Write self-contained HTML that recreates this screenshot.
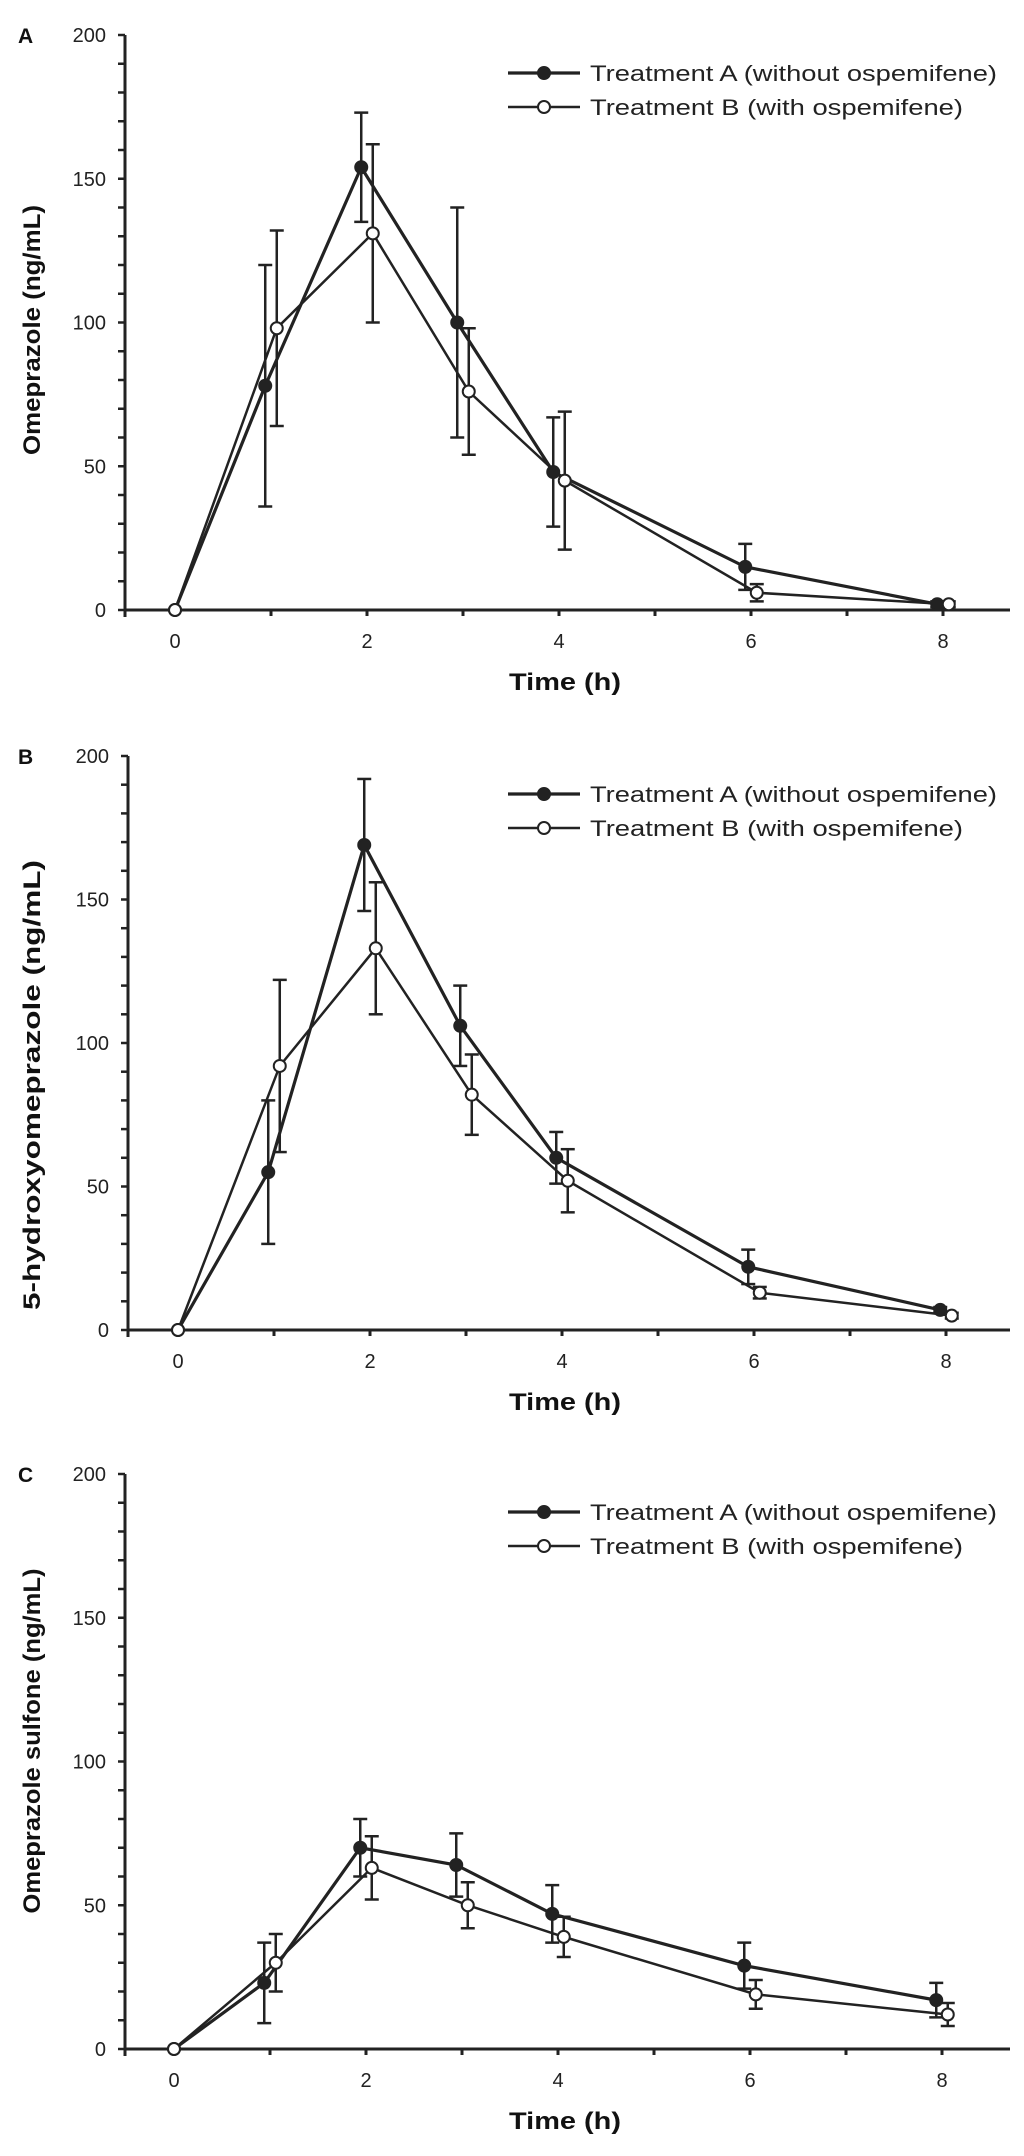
<!DOCTYPE html>
<html><head><meta charset="utf-8"><style>
html,body{margin:0;padding:0;background:#fff;}
svg{display:block;font-family:"Liberation Sans",Arial,sans-serif;}
</style></head>
<body>
<svg id="chart" width="1024" height="2156" viewBox="0 0 1024 2156" xmlns="http://www.w3.org/2000/svg"></svg>
<script>
const times = [0, 1, 2, 3, 4, 6, 8];
const panelLetters = ["A", "B", "C"];
const yTitles = ["Omeprazole (ng/mL)", "5-hydroxyomeprazole (ng/mL)", "Omeprazole sulfone (ng/mL)"];
const yTicks = [0, 50, 100, 150, 200];
const xTicks = [0, 2, 4, 6, 8];
const legendLabels = ["Treatment A (without ospemifene)", "Treatment B (with ospemifene)"];
// Panel A
const omeA = [0, 78, 154, 100, 48, 15, 2];
const omeAErr = [0, 42, 19, 40, 19, 8, 1];
const omeB = [0, 98, 131, 76, 45, 6, 2];
const omeBErr = [0, 34, 31, 22, 24, 3, 1];
// Panel B
const hydA = [0, 55, 169, 106, 60, 22, 7];
const hydAErr = [0, 25, 23, 14, 9, 6, 1];
const hydB = [0, 92, 133, 82, 52, 13, 5];
const hydBErr = [0, 30, 23, 14, 11, 2, 1];
// Panel C
const sulA = [0, 23, 70, 64, 47, 29, 17];
const sulAErr = [0, 14, 10, 11, 10, 8, 6];
const sulB = [0, 30, 63, 50, 39, 19, 12];
const sulBErr = [0, 10, 11, 8, 7, 5, 4];

const panelSeries = [[omeA, omeAErr, omeB, omeBErr],[hydA, hydAErr, hydB, hydBErr],[sulA, sulAErr, sulB, sulBErr]];
const layout = [
  {ax:125, top:35, bot:610, x0:175, tlen:250, tcy:330},
  {ax:128, top:756, bot:1330, x0:178, tlen:450, tcy:1085},
  {ax:125, top:1474, bot:2049, x0:174, tlen:345, tcy:1741}
];
const NS = "http://www.w3.org/2000/svg";
const svg = document.getElementById("chart");
function mk(tag, attrs, parent){ const e=document.createElementNS(NS,tag); for(const k in attrs) e.setAttribute(k,attrs[k]); (parent||svg).appendChild(e); return e; }

layout.forEach((L, p) => {
  const g = mk("g", {});
  
  
  const xs = t => L.x0 + 96 * t;
  const ys = v => L.bot - (L.bot - L.top) * v / 200;
  const lab = mk("text", {x:18, y:L.top+8, "font-size":21, "font-weight":"bold", fill:"#111"}, g);
  lab.textContent = panelLetters[p];
  
  
  const yax = mk("line", {x1:L.ax, y1:L.top, x2:L.ax, y2:L.bot+7, stroke:"#222", "stroke-width":3}, g);
  
  
  const xax = mk("line", {x1:L.ax, y1:L.bot, x2:1010, y2:L.bot, stroke:"#222", "stroke-width":3}, g);
  
  
  for (let v = 0; v <= 200; v += 10) {
    mk("line", {x1:L.ax-7, y1:ys(v), x2:L.ax, y2:ys(v), stroke:"#222", "stroke-width":2.5}, g);
  }
  yTicks.forEach(v => {
    const t = mk("text", {x:L.ax-19, y:ys(v)+7, "font-size":20, "text-anchor":"end", fill:"#222"}, g);
    t.textContent = v;
    
    
  });
  for (let t = 1; t <= 8; t++) {
    mk("line", {x1:xs(t), y1:L.bot, x2:xs(t), y2:L.bot+6, stroke:"#222", "stroke-width":3}, g);
  }
  xTicks.forEach(v => {
    const t = mk("text", {x:xs(v), y:L.bot+38, "font-size":20, "text-anchor":"middle", fill:"#222"}, g);
    t.textContent = v;
    
    
  });
  const xt = mk("text", {x:565, y:L.bot+80, "font-size":24, "font-weight":"bold", "text-anchor":"middle", textLength:112, lengthAdjust:"spacingAndGlyphs", fill:"#111"}, g);
  xt.textContent = "Time (h)";
  
  
  const yt = mk("text", {x:0, y:0, "font-size":24, "font-weight":"bold", "text-anchor":"middle", textLength:L.tlen, lengthAdjust:"spacingAndGlyphs", fill:"#111", transform:`translate(40,${L.tcy}) rotate(-90)`}, g);
  yt.textContent = yTitles[p];
  
  

  const S = panelSeries[p];
  [[S[0],S[1],-0.06,"#222",3.2,"series-a"],[S[2],S[3],0.06,"#fff",2.5,"series-b"]].forEach(([vals, errs, off, fill, sw, nm]) => {
    const sg = mk("g", {}, g);
    
    
    const px = times.map(t => xs(t === 0 ? 0 : t + off));
    vals.forEach((v, i) => {
      if (errs[i] > 0) {
        const x = px[i], y1 = ys(v + errs[i]), y2 = ys(Math.max(0, v - errs[i]));
        mk("line", {x1:x, y1:y1, x2:x, y2:y2, stroke:"#222", "stroke-width":2.5}, sg);
        mk("line", {x1:x-7, y1:y1, x2:x+7, y2:y1, stroke:"#222", "stroke-width":2.5}, sg);
        mk("line", {x1:x-7, y1:y2, x2:x+7, y2:y2, stroke:"#222", "stroke-width":2.5}, sg);
      }
    });
    mk("polyline", {points: vals.map((v,i)=>px[i]+","+ys(v)).join(" "), fill:"none", stroke:"#222", "stroke-width":sw}, sg);
    vals.forEach((v, i) => {
      const c = mk("circle", {cx:px[i], cy:ys(v), r:6, fill:fill, stroke:"#222", "stroke-width":2}, sg);
      
      
    });
  });
  legendLabels.forEach((txt, i) => {
    const ly = L.top + 38 + i * 34;
    const lg = mk("g", {}, g);
    
    
    mk("line", {x1:508, y1:ly, x2:580, y2:ly, stroke:"#222", "stroke-width": i === 0 ? 3.2 : 2.5}, lg);
    mk("circle", {cx:544, cy:ly, r:6, fill: i === 0 ? "#222" : "#fff", stroke:"#222", "stroke-width":2}, lg);
    const t = mk("text", {x:590, y:ly+8, "font-size":22, textLength: i === 0 ? 407 : 373, lengthAdjust:"spacingAndGlyphs", fill:"#222"}, lg);
    t.textContent = txt;
  });
});
</script>
</body></html>
